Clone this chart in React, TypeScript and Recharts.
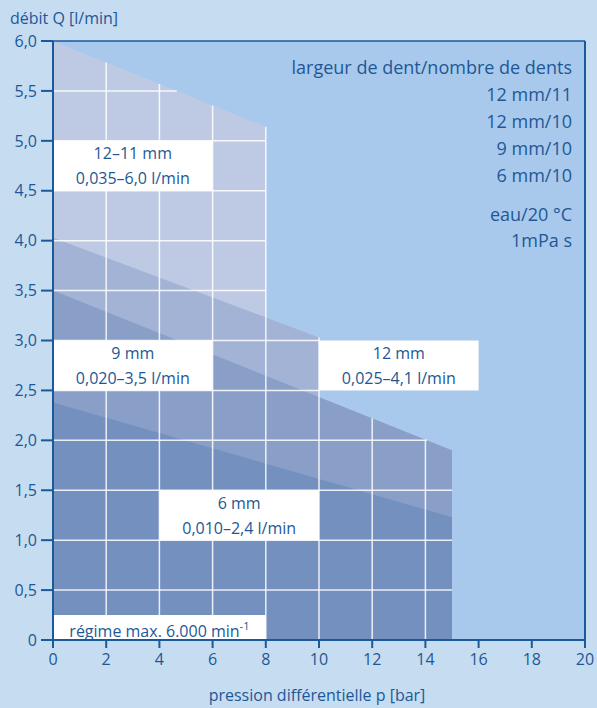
import React from "react";
import {
  ComposedChart,
  Area,
  XAxis,
  YAxis,
  CartesianGrid,
  ReferenceLine,
  ReferenceArea,
} from "recharts";

// pressure (bar) at which the curve points are given
const pressure = [0, 8, 10, 15];
// flow (l/min) per gear variant, null where the variant has no point
const q12mm11 = [6.0, 5.14, null, null];
const q12mm10 = [4.03, null, 3.03, null];
const q9mm10 = [3.5, null, null, 1.9];
const q6mm10 = [2.38, null, null, 1.23];

const xTicks = [0, 2, 4, 6, 8, 10, 12, 14, 16, 18, 20];
const yTicks = [0, 0.5, 1.0, 1.5, 2.0, 2.5, 3.0, 3.5, 4.0, 4.5, 5.0, 5.5, 6.0];

const legendLines = [
  "largeur de dent/nombre de dents",
  "12 mm/11",
  "12 mm/10",
  "9 mm/10",
  "6 mm/10",
];
const mediumLines = ["eau/20 °C", "1mPa s"];

const boxes = [
  { x1: 0, x2: 6, y1: 4.5, y2: 5.0, lines: ["12–11 mm", "0,035–6,0 l/min"] },
  { x1: 0, x2: 6, y1: 2.5, y2: 3.0, lines: ["9 mm", "0,020–3,5 l/min"] },
  { x1: 10, x2: 16, y1: 2.5, y2: 3.0, lines: ["12 mm", "0,025–4,1 l/min"] },
  { x1: 4, x2: 10, y1: 1.0, y2: 1.5, lines: ["6 mm", "0,010–2,4 l/min"] },
];
const speedBox = { x1: 0, x2: 8, y1: 0, y2: 0.25 };

const TEXT = "#1d5896";
const AXIS = "#1a5a9a";
const FONT = "'Open Sans', sans-serif";

const data = pressure.map((p, i) => ({
  p,
  a: q12mm11[i],
  b: q12mm10[i],
  c: q9mm10[i],
  d: q6mm10[i],
}));

// straight segments of each series (first and last defined point)
const seriesSegs = [q12mm11, q12mm10, q9mm10, q6mm10].map((arr) => {
  const pts = arr
    .map((v, i) => (v === null ? null : [pressure[i], v as number]))
    .filter((x) => x !== null) as number[][];
  return { x0: pts[0][0], y0: pts[0][1], x1: pts[pts.length - 1][0], y1: pts[pts.length - 1][1] };
});

const topAt = (x: number) => {
  let m = 0;
  seriesSegs.forEach((s) => {
    if (x >= s.x0 && x <= s.x1) {
      const v = s.y0 + ((s.y1 - s.y0) * (x - s.x0)) / (s.x1 - s.x0);
      if (v > m) m = v;
    }
  });
  return m;
};
const rightAt = (y: number) => {
  let m = 0;
  seriesSegs.forEach((s) => {
    if (s.y0 >= y) {
      let xe = s.x1;
      if (s.y1 < y) xe = s.x0 + ((s.y0 - y) / (s.y0 - s.y1)) * (s.x1 - s.x0);
      if (xe > m) m = xe;
    }
  });
  return m;
};

const allBoxes = [...boxes, speedBox];

// split an interval [a,b] by removing the given cut intervals
const cut = (a: number, b: number, cuts: number[][]) => {
  let parts: number[][] = [[a, b]];
  cuts.forEach(([c0, c1]) => {
    const next: number[][] = [];
    parts.forEach(([p0, p1]) => {
      if (c1 <= p0 || c0 >= p1) next.push([p0, p1]);
      else {
        if (c0 > p0) next.push([p0, c0]);
        if (c1 < p1) next.push([c1, p1]);
      }
    });
    parts = next;
  });
  return parts;
};

const vSegs: number[][] = [];
xTicks
  .filter((x) => x > 0 && topAt(x) > 0)
  .forEach((x) => {
    const cuts = allBoxes.filter((b) => x > b.x1 && x < b.x2).map((b) => [b.y1, b.y2]);
    cut(0, topAt(x), cuts).forEach(([y0, y1]) => vSegs.push([x, y0, y1]));
  });
const hSegs: number[][] = [];
yTicks
  .filter((y) => y > 0 && y < 6 && rightAt(y) > 0)
  .forEach((y) => {
    const cuts = allBoxes.filter((b) => y > b.y1 && y < b.y2).map((b) => [b.x1, b.x2]);
    cut(0, rightAt(y), cuts).forEach(([x0, x1]) => hSegs.push([y, x0, x1]));
  });

const BoxLabel = (props: any) => {
  const { viewBox, lines } = props;
  if (!viewBox) return null;
  const cx = viewBox.x + viewBox.width / 2;
  const cy = viewBox.y + viewBox.height / 2;
  return (
    <g>
      <text x={cx} y={cy - 12.5} textAnchor="middle" dominantBaseline="central" fill={TEXT} fontSize={16} fontFamily={FONT}>
        {lines[0]}
      </text>
      <text x={cx} y={cy + 12.5} textAnchor="middle" dominantBaseline="central" fill={TEXT} fontSize={16} fontFamily={FONT}>
        {lines[1]}
      </text>
    </g>
  );
};

const SpeedLabel = (props: any) => {
  const { viewBox } = props;
  if (!viewBox) return null;
  const cx = viewBox.x + viewBox.width / 2;
  const cy = viewBox.y + viewBox.height / 2;
  return (
    <text x={cx} y={cy + 3} textAnchor="middle" dominantBaseline="central" fill={TEXT} fontSize={16} fontFamily={FONT}>
      régime max. 6.000 min
      <tspan fontSize={11} dy={-6}>-1</tspan>
    </text>
  );
};

const fmtY = (v: number) => (v === 0 ? "0" : v.toFixed(1).replace(".", ","));

export default function App() {
  return (
    <div style={{ position: "absolute", left: 0, top: 0, width: 597, height: 708, background: "#c6dcf1", fontFamily: FONT }}>
      <ComposedChart width={597} height={708} data={data} margin={{ top: 41, right: 12, left: 0, bottom: 0 }}>
        <CartesianGrid horizontal={false} vertical={false} fill="#a9c9ec" fillOpacity={1} />
        <XAxis
          dataKey="p"
          type="number"
          domain={[0, 20]}
          ticks={xTicks}
          height={68}
          tickSize={8}
          tickMargin={6}
          stroke={AXIS}
          strokeWidth={2}
          tick={{ fill: TEXT, fontSize: 16, fontFamily: FONT }}
          tickLine={{ stroke: AXIS, strokeWidth: 2 }}
        />
        <YAxis
          type="number"
          domain={[0, 6]}
          ticks={yTicks}
          width={53}
          tickSize={12}
          tickMargin={4}
          stroke={AXIS}
          strokeWidth={2}
          tickFormatter={fmtY}
          tick={{ fill: TEXT, fontSize: 16, fontFamily: FONT }}
          tickLine={{ stroke: AXIS, strokeWidth: 2 }}
          interval={0}
        />
        <Area dataKey="a" type="linear" connectNulls stroke="none" fill="#bec9e3" fillOpacity={1} isAnimationActive={false} />
        <Area dataKey="b" type="linear" connectNulls stroke="none" fill="#a3b3d5" fillOpacity={1} isAnimationActive={false} />
        <Area dataKey="c" type="linear" connectNulls stroke="none" fill="#8a9fc8" fillOpacity={1} isAnimationActive={false} />
        <Area dataKey="d" type="linear" connectNulls stroke="none" fill="#7390bf" fillOpacity={1} isAnimationActive={false} />
        {boxes.map((b, i) => (
          <ReferenceArea
            key={"b" + i}
            x1={b.x1}
            x2={b.x2}
            y1={b.y1}
            y2={b.y2}
            fill="#ffffff"
            fillOpacity={1}
            stroke="none"
            label={<BoxLabel lines={b.lines} />}
          />
        ))}
        <ReferenceArea
          x1={speedBox.x1}
          x2={speedBox.x2}
          y1={speedBox.y1}
          y2={speedBox.y2}
          fill="#ffffff"
          fillOpacity={1}
          stroke="none"
          label={<SpeedLabel />}
        />
        {vSegs.map(([x, y0, y1], i) => (
          <ReferenceLine key={"v" + i} segment={[{ x, y: y0 }, { x, y: y1 }]} stroke="#ffffff" strokeOpacity={0.85} strokeWidth={1.5} />
        ))}
        {hSegs.map(([y, x0, x1], i) => (
          <ReferenceLine key={"h" + i} segment={[{ x: x0, y }, { x: x1, y }]} stroke="#ffffff" strokeOpacity={0.85} strokeWidth={1.5} />
        ))}
        <ReferenceLine y={6} stroke={AXIS} strokeWidth={1.5} />
        <ReferenceLine x={20} stroke={AXIS} strokeWidth={2} />
      </ComposedChart>
      <svg width={597} height={708} style={{ position: "absolute", left: 0, top: 0, pointerEvents: "none" }}>
        <text x={10} y={18} dominantBaseline="central" fill={TEXT} fontSize={16} fontFamily={FONT}>
          débit Q [l/min]
        </text>
        <text x={317} y={695} textAnchor="middle" dominantBaseline="central" fill={TEXT} fontSize={16} fontFamily={FONT}>
          pression différentielle p [bar]
        </text>
        {legendLines.map((t, i) => (
          <text key={t} x={572} y={67 + i * 27} textAnchor="end" dominantBaseline="central" fill={TEXT} fontSize={18} fontFamily={FONT}>
            {t}
          </text>
        ))}
        {mediumLines.map((t, i) => (
          <text key={t} x={572} y={214 + i * 26} textAnchor="end" dominantBaseline="central" fill={TEXT} fontSize={18} fontFamily={FONT}>
            {t}
          </text>
        ))}
      </svg>
    </div>
  );
}
